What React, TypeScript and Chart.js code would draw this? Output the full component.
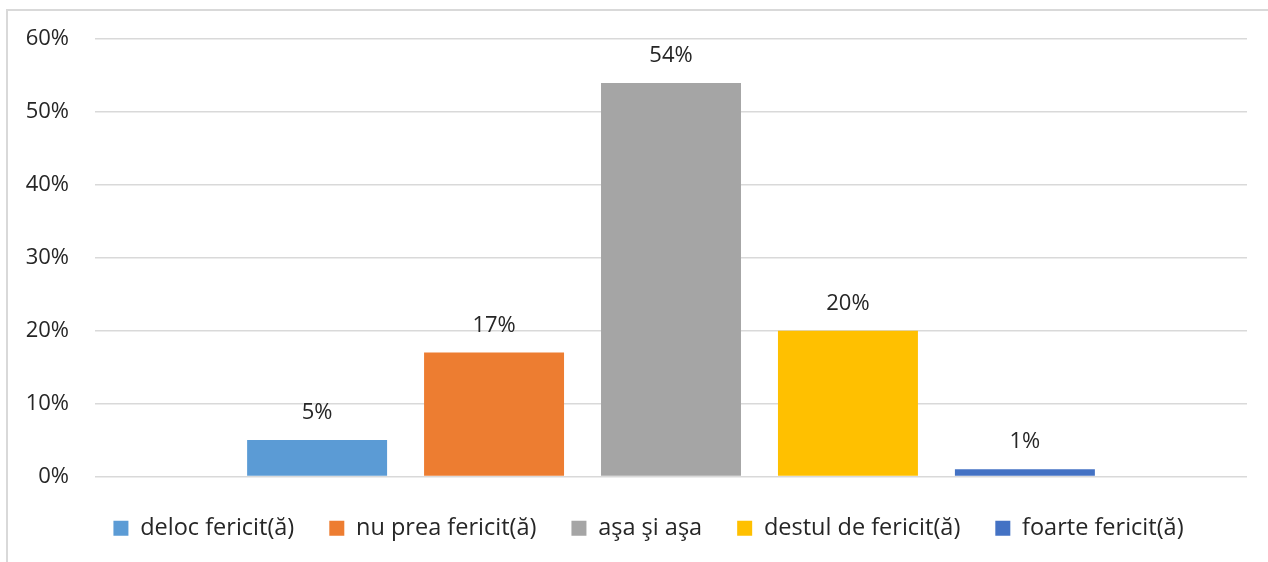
import React, { useEffect, useRef } from "react";
import { Chart, registerables } from "chart.js";

Chart.register(...registerables);

const categories = [""];
const seriesNames = [
  "deloc fericit(ă)",
  "nu prea fericit(ă)",
  "aşa şi aşa",
  "destul de fericit(ă)",
  "foarte fericit(ă)",
];
const seriesValues = [5, 17, 54, 20, 1];
const seriesColors = ["#5B9BD5", "#ED7D31", "#A5A5A5", "#FFC000", "#4472C4"];
const yTicks = [0, 10, 20, 30, 40, 50, 60];

const FONT = "'Open Sans', sans-serif";

const dataLabelPlugin = {
  id: "dataLabels",
  afterDatasetsDraw(chart: any) {
    const ctx = chart.ctx;
    ctx.save();
    ctx.font = `22px ${FONT}`;
    ctx.fillStyle = "#262626";
    ctx.textAlign = "center";
    ctx.textBaseline = "middle";
    chart.data.datasets.forEach((ds: any, i: number) => {
      const meta = chart.getDatasetMeta(i);
      meta.data.forEach((bar: any, j: number) => {
        ctx.fillText(`${ds.data[j]}%`, bar.x, bar.y - 27);
      });
    });
    ctx.restore();
  },
};

// shift the legend's centering region to match the reference layout
const legendShiftPlugin = {
  id: "legendShift",
  afterLayout(chart: any) {
    if (chart.legend) {
      chart.legend.left = 50;
      chart.legend.width = chart.legend.right - 50;
    }
  },
};

export default function App() {
  const ref = useRef<HTMLCanvasElement>(null);
  useEffect(() => {
    document.body.style.margin = "0";
    const chart = new Chart(ref.current!, {
      type: "bar",
      data: {
        labels: categories,
        datasets: seriesNames.map((name, i) => ({
          label: name,
          data: [seriesValues[i]],
          backgroundColor: seriesColors[i],
          borderWidth: 0,
          categoryPercentage: 0.768,
          barPercentage: 0.791,
        })),
      },
      options: {
        animation: false,
        responsive: false,
        maintainAspectRatio: false,
        layout: { padding: { top: 39, right: 21, left: 0, bottom: 12 } },
        plugins: {
          tooltip: { enabled: false },
          legend: {
            position: "bottom",
            labels: {
              boxWidth: 15,
              boxHeight: 15,
              padding: 35,
              color: "#262626",
              font: { family: FONT, size: 23.5 },
            },
          },
        },
        scales: {
          x: {
            grid: { display: false },
            border: { display: false },
            ticks: { display: false },
            afterFit(scale: any) {
              scale.height = 5;
            },
          },
          y: {
            min: 0,
            max: 60,
            afterBuildTicks(scale: any) {
              scale.ticks = yTicks.map((v) => ({ value: v }));
            },
            afterFit(scale: any) {
              scale.width = 95;
            },
            grid: { color: "#d9d9d9", lineWidth: 1.5, drawTicks: false },
            border: { display: false },
            ticks: {
              padding: 26,
              color: "#262626",
              font: { family: FONT, size: 22 },
              callback: (v: any) => `${v}%`,
            },
          },
        },
      },
      plugins: [dataLabelPlugin, legendShiftPlugin],
    });
    return () => chart.destroy();
  }, []);
  return (
    <div style={{ position: "relative", width: 1268, height: 562, overflow: "hidden", background: "#fff" }}>
      <div
        style={{
          position: "absolute",
          left: 6,
          top: 9,
          width: 1300,
          height: 600,
          borderTop: "2px solid #d9d9d9",
          borderLeft: "2px solid #d9d9d9",
        }}
      />
      <canvas ref={ref} width={1268} height={562} style={{ position: "absolute", left: 0, top: 0 }} />
    </div>
  );
}
